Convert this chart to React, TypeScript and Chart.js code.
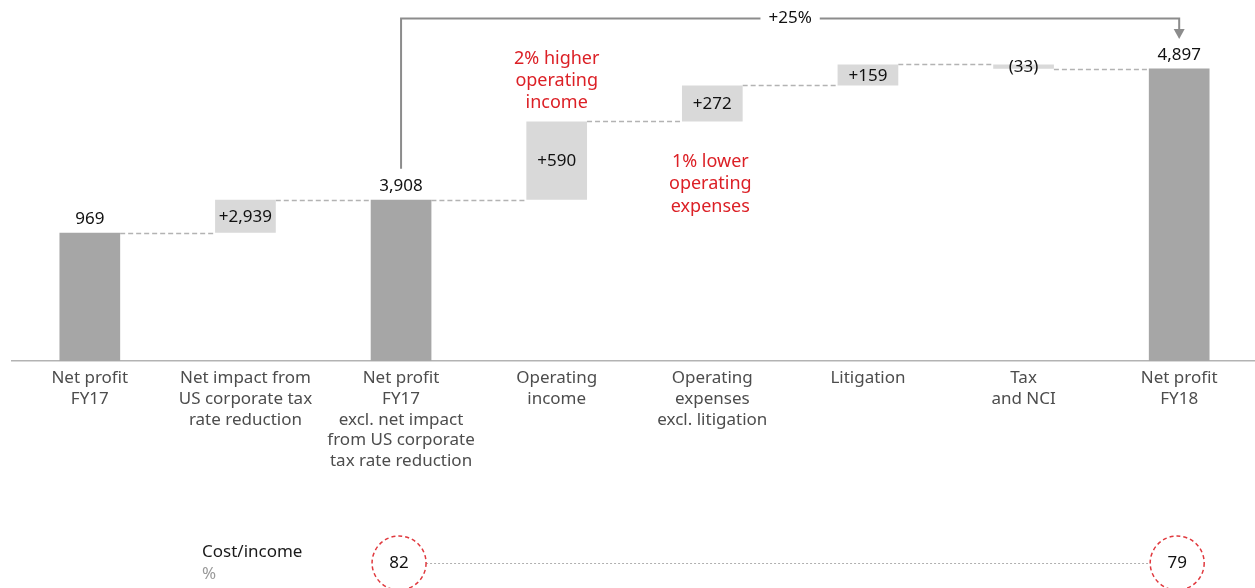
import React, { useEffect, useRef } from 'react';
import { Chart, registerables, LinearScale } from 'chart.js';

Chart.register(...registerables);

// ---------- data ----------
const categories: string[][] = [
  ['Net profit', 'FY17'],
  ['Net impact from', 'US corporate tax', 'rate reduction'],
  ['Net profit', 'FY17', 'excl. net impact', 'from US corporate', 'tax rate reduction'],
  ['Operating', 'income'],
  ['Operating', 'expenses', 'excl. litigation'],
  ['Litigation'],
  ['Tax', 'and NCI'],
  ['Net profit', 'FY18'],
];
const stepValues = [969, 2939, 3908, 590, 272, 159, -33, 4897];
const isTotal = [true, false, true, false, false, false, false, true];
const valueLabels = ['969', '+2,939', '3,908', '+590', '+272', '+159', '(33)', '4,897'];
const costIncomeCategories = [2, 7];
const costIncomeValues = [82, 79];
const growthFromTo = [2, 7];
const growthLabel = '+25%';
const noteAboveCategory = 3;
const noteAboveLines = ['2% higher', 'operating', 'income'];
const noteBelowCategory = 4;
const noteBelowLines = ['1% lower', 'operating', 'expenses'];

// floating ranges for waterfall
let running = 0;
const ranges: [number, number][] = stepValues.map((v, i) => {
  if (isTotal[i]) {
    running = v;
    return [0, v];
  }
  const s = running;
  running += v;
  return [s, running];
});

// ---------- broken axis scale ----------
const BREAK_LO = 969;
const BREAK_HI = 3908;
const SQUEEZE = 0.0847;
const warp = (v: number) =>
  v <= BREAK_LO
    ? v
    : v <= BREAK_HI
    ? BREAK_LO + (v - BREAK_LO) * SQUEEZE
    : BREAK_LO + (BREAK_HI - BREAK_LO) * SQUEEZE + (v - BREAK_HI);
const unwarp = (w: number) => {
  const a = BREAK_LO;
  const b = BREAK_LO + (BREAK_HI - BREAK_LO) * SQUEEZE;
  if (w <= a) return w;
  if (w <= b) return BREAK_LO + (w - a) / SQUEEZE;
  return BREAK_HI + (w - b);
};

class BrokenScale extends LinearScale {
  static id = 'broken';
  static defaults = LinearScale.defaults;
  getPixelForValue(value: number) {
    const lo = warp(this.min);
    const hi = warp(this.max);
    return this.getPixelForDecimal((warp(value) - lo) / (hi - lo));
  }
  getValueForPixel(pixel: number) {
    const lo = warp(this.min);
    const hi = warp(this.max);
    return unwarp(lo + this.getDecimalForPixel(pixel) * (hi - lo));
  }
}
Chart.register(BrokenScale as any);

const FONT = "'Noto Sans', 'Open Sans', sans-serif";
const TOTAL_COLOR = '#a6a6a6';
const DELTA_COLOR = '#d9d9d9';
const RED = '#dc2026';

const overlay = {
  id: 'overlay',
  beforeDatasetsDraw(chart: any) {
    const ctx = chart.ctx;
    const meta = chart.getDatasetMeta(0);
    const y = chart.scales.y;
    ctx.save();
    ctx.strokeStyle = '#b3b3b3';
    ctx.lineWidth = 1.5;
    ctx.setLineDash([5, 3]);
    for (let i = 0; i < ranges.length - 1; i++) {
      const a = meta.data[i];
      const b = meta.data[i + 1];
      const py = Math.round(y.getPixelForValue(ranges[i][1])) + 0.5;
      ctx.beginPath();
      ctx.moveTo(a.x + a.width / 2, py);
      ctx.lineTo(b.x - b.width / 2, py);
      ctx.stroke();
    }
    ctx.restore();
  },
  afterDraw(chart: any) {
    const ctx = chart.ctx;
    const meta = chart.getDatasetMeta(0);
    const area = chart.chartArea;
    ctx.save();
    // value labels
    ctx.font = `17px ${FONT}`;
    ctx.fillStyle = '#111111';
    ctx.textAlign = 'center';
    ctx.textBaseline = 'middle';
    meta.data.forEach((bar: any, i: number) => {
      const top = Math.min(bar.y, bar.base);
      const bottom = Math.max(bar.y, bar.base);
      const cy = isTotal[i] ? top - 13 : (top + bottom) / 2 + 1;
      ctx.fillText(valueLabels[i], bar.x, cy);
    });

    // red notes
    ctx.fillStyle = RED;
    ctx.font = `18px ${FONT}`;
    const na = meta.data[noteAboveCategory];
    const naTop = Math.min(na.y, na.base);
    noteAboveLines.forEach((t, k) => {
      ctx.fillText(t, na.x, naTop - 19 - (noteAboveLines.length - 1 - k) * 22);
    });
    const nb = meta.data[noteBelowCategory];
    const nbBottom = Math.max(nb.y, nb.base);
    noteBelowLines.forEach((t, k) => {
      ctx.fillText(t, nb.x - 2, nbBottom + 40 + k * 22.5);
    });

    // growth arrow
    const g1 = meta.data[growthFromTo[0]];
    const g2 = meta.data[growthFromTo[1]];
    const yTop = 18.5;
    ctx.strokeStyle = '#8c8c8c';
    ctx.lineWidth = 2;
    ctx.setLineDash([]);
    ctx.beginPath();
    ctx.moveTo(g1.x, g1.y - 31);
    ctx.lineTo(g1.x, yTop);
    ctx.lineTo(g2.x, yTop);
    ctx.lineTo(g2.x, 31);
    ctx.stroke();
    ctx.fillStyle = '#8c8c8c';
    ctx.beginPath();
    ctx.moveTo(g2.x - 5.5, 29);
    ctx.lineTo(g2.x + 5.5, 29);
    ctx.lineTo(g2.x, 39);
    ctx.closePath();
    ctx.fill();
    const mid = (g1.x + g2.x) / 2;
    ctx.font = `17px ${FONT}`;
    const w = ctx.measureText(growthLabel).width + 16;
    ctx.fillStyle = '#ffffff';
    ctx.fillRect(mid - w / 2, yTop - 10, w, 20);
    ctx.fillStyle = '#111111';
    ctx.fillText(growthLabel, mid, yTop);

    // cost / income row
    const rowY = 563;
    ctx.textAlign = 'left';
    ctx.fillStyle = '#1a1a1a';
    ctx.fillText('Cost/income', area.left + 190, 552);
    ctx.fillStyle = '#9a9a9a';
    ctx.fillText('%', area.left + 190, 574);
    const r = 27;
    const xs = costIncomeCategories.map((c) => meta.data[c].x - 2);
    ctx.strokeStyle = '#b0b0b0';
    ctx.lineWidth = 1;
    ctx.setLineDash([2, 2]);
    ctx.beginPath();
    ctx.moveTo(xs[0] + r, rowY + 0.5);
    ctx.lineTo(xs[1] - r, rowY + 0.5);
    ctx.stroke();
    ctx.strokeStyle = '#e0393e';
    ctx.lineWidth = 1.5;
    ctx.setLineDash([4, 3]);
    ctx.textAlign = 'center';
    xs.forEach((x, k) => {
      ctx.beginPath();
      ctx.arc(x, rowY, r, 0, Math.PI * 2);
      ctx.stroke();
      ctx.fillStyle = '#111111';
      ctx.fillText(String(costIncomeValues[k]), x, rowY);
    });
    ctx.restore();
  },
};

export default function App() {
  const ref = useRef<HTMLCanvasElement | null>(null);
  useEffect(() => {
    if (!ref.current) return;
    const chart = new Chart(ref.current, {
      type: 'bar',
      data: {
        labels: categories as any,
        datasets: [
          {
            data: ranges as any,
            backgroundColor: isTotal.map((t) => (t ? TOTAL_COLOR : DELTA_COLOR)),
            borderWidth: 0,
            barPercentage: 0.39,
            categoryPercentage: 1,
          },
        ],
      },
      options: {
        animation: false,
        responsive: true,
        maintainAspectRatio: false,
        layout: { padding: { left: 12, right: 0, top: 0, bottom: 0 } },
        plugins: { legend: { display: false }, tooltip: { enabled: false } },
        scales: {
          x: {
            type: 'category',
            offset: true,
            grid: { display: false, drawTicks: false },
            border: { display: true, color: '#b3b3b3', width: 1.5 },
            ticks: {
              color: '#4d4d4d',
              font: { family: FONT, size: 17, lineHeight: 1.22 },
              padding: 7,
              maxRotation: 0,
              autoSkip: false,
            },
            afterFit: (s: any) => {
              s.height = 227;
            },
          } as any,
          y: { type: 'broken' as any, display: false, min: 0, max: 5415 },
        },
      },
      plugins: [overlay],
    });
    return () => chart.destroy();
  }, []);
  return (
    <div style={{ position: 'fixed', left: 0, top: 0, width: 1257, height: 588, background: '#fff' }}>
      <canvas ref={ref} />
    </div>
  );
}
